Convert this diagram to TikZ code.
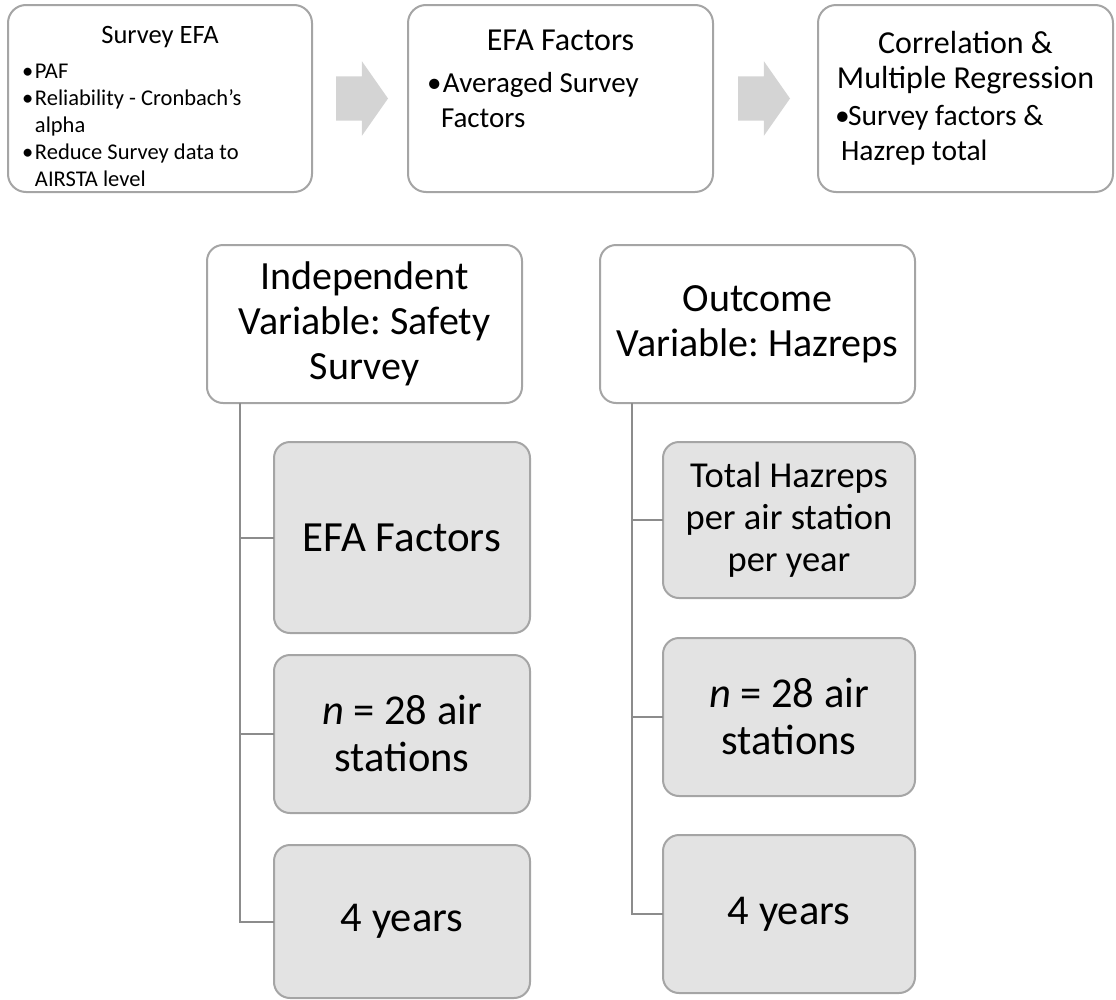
\documentclass[tikz,border=0pt]{standalone}
\usepackage{fontspec}
\setmainfont{Carlito}
\usetikzlibrary{positioning,shapes.arrows}

\definecolor{boxgray}{HTML}{A5A5A5}
\definecolor{kidfill}{HTML}{E3E3E3}
\definecolor{spinegray}{HTML}{8C8C8C}
\definecolor{arrowgray}{HTML}{D4D4D4}

\newcommand{\bulmark}[1]{\makebox[#1][l]{\textbullet}}
\newcommand{\bulgap}[1]{\hspace*{#1}}

\begin{document}
\frenchspacing
\begin{tikzpicture}[x=1pt,y=-1pt,
    every node/.style={inner sep=0pt,outer sep=0pt},
    stage/.style={draw=boxgray,line width=2pt,rounded corners=18pt,fill=white,minimum height=187pt},
    bullets/.style={anchor=base west,align=left},
    heading/.style={draw=boxgray,line width=2pt,rounded corners=16pt,fill=white,align=center,
      minimum width=315pt,minimum height=158pt,font=\fontsize{40}{45}\selectfont},
    kid/.style={draw=boxgray,line width=2pt,rounded corners=16pt,fill=kidfill,align=center,
      font=\fontsize{42.5}{47}\selectfont},
    flow/.style={single arrow,fill=arrowgray,inner xsep=0pt,inner ysep=22pt,minimum height=52pt,
      single arrow head extend=15pt,single arrow tip angle=110},
    spine/.style={draw=spinegray,line width=2pt}]
  \useasboundingbox (0,0) rectangle (1116,999);

  % analysis stages
  \node[stage,minimum width=304pt,anchor=north west] (efa) at (8,5) {};
  \node[stage,minimum width=305pt,right=96pt of efa] (avg) {};
  \node[stage,minimum width=295pt,right=105pt of avg] (reg) {};
  \node[flow,right=24pt of efa] (arr1) {};
  \node[flow,right=25pt of avg] (arr2) {};

  \node[anchor=base,font=\fontsize{26.5}{31}\selectfont] (efat) at ([yshift=-38pt]efa.north) {Survey EFA};
  \node[bullets,font=\fontsize{22.5}{27}\selectfont] (efab) at (22,186)
    {\bulmark{13pt}PAF\\\bulmark{13pt}Reliability - Cronbach's\\\bulgap{13pt}alpha\\
     \bulmark{13pt}Reduce Survey data to\\\bulgap{13pt}AIRSTA level};
  \node[anchor=base,font=\fontsize{32}{35}\selectfont] (avgt) at ([yshift=-45pt]avg.north) {EFA Factors};
  \node[bullets,font=\fontsize{29}{35}\selectfont] (avgb) at (427,127)
    {\bulmark{16pt}Averaged Survey\\\bulgap{14pt}Factors};
  \node[anchor=base,align=center,font=\fontsize{32}{35}\selectfont] (regt) at ([yshift=-83pt]reg.north) {Correlation \&\\Multiple Regression};
  \node[bullets,font=\fontsize{29.5}{35}\selectfont] (regb) at (835,160)
    {\bulmark{13pt}Survey factors \&\\\bulgap{6pt}Hazrep total};

  % variables
  \node[heading,anchor=north west] (iv) at (207,245) {Independent\\Variable: Safety\\Survey};
  \node[heading,right=78pt of iv] (ov) {Outcome\\Variable: Hazreps};

  \node[kid,minimum width=256pt,minimum height=191pt,font=\fontsize{43}{48}\selectfont,
    below right=39pt and 67pt of iv.south west] (iv1) {EFA Factors};
  \node[kid,minimum width=256pt,minimum height=158pt,below=22pt of iv1] (iv2) {\textit{n} = 28 air\\stations};
  \node[kid,minimum width=256pt,minimum height=153pt,below=32pt of iv2] (iv3) {4 years};
  \node[kid,minimum width=252pt,minimum height=156pt,font=\fontsize{36.5}{42}\selectfont,
    below right=39pt and 63pt of ov.south west] (ov1) {Total Hazreps\\per air station\\per year};
  \node[kid,minimum width=252pt,minimum height=158pt,below=40pt of ov1] (ov2) {\textit{n} = 28 air\\stations};
  \node[kid,minimum width=252pt,minimum height=158pt,below=39pt of ov2] (ov3) {4 years};

  \draw[spine] ([xshift=33pt]iv.south west) |- (iv1.west);
  \draw[spine] ([xshift=33pt]iv.south west) |- (iv2.west);
  \draw[spine] ([xshift=33pt]iv.south west) |- (iv3.west);
  \draw[spine] ([xshift=32pt]ov.south west) |- (ov1.west);
  \draw[spine] ([xshift=32pt]ov.south west) |- (ov2.west);
  \draw[spine] ([xshift=32pt]ov.south west) |- (ov3.west);
\end{tikzpicture}
\end{document}
